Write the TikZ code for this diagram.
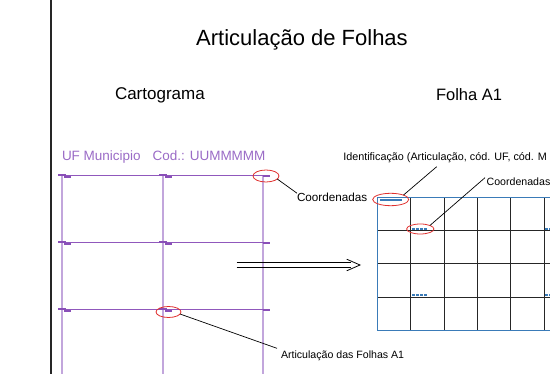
\documentclass[tikz,border=0pt]{standalone}
\usepackage{fontspec}
\setmainfont{Liberation Sans}
\usetikzlibrary{shapes.geometric}
\definecolor{purp}{HTML}{9A6BC6}
\definecolor{purpline}{HTML}{9058BC}
\definecolor{purplight}{HTML}{C2A6DC}
\definecolor{purpmark}{HTML}{8A4FB8}
\definecolor{redc}{HTML}{E0302E}
\definecolor{bluec}{HTML}{3A7BB8}
\tikzset{
  lbl/.style={anchor=base west, inner sep=0pt, outer sep=0pt},
  ring/.style={draw=redc, line width=0.8pt, ellipse, inner sep=0pt, outer sep=0pt},
  leader/.style={draw=black, line width=0.7pt},
  pmark/.style={draw=purpmark, line width=1.8pt},
  gline/.style={draw=black!85, line width=0.9pt},
  bmark/.style={draw=bluec, line width=2pt},
}
\begin{document}
\begin{tikzpicture}[x=1pt,y=-1pt]
\useasboundingbox (0,0) rectangle (550,374);
\clip (0,0) rectangle (550,374);
% left bar
\draw[line width=2pt, black!85] (51,-2) -- (51,376);
% titles
\node[anchor=base, inner sep=0pt, font=\fontsize{22}{26}\selectfont] (title) at (302,46) {Articulação de Folhas};
\node[lbl, font=\fontsize{17}{20}\selectfont] (carto) at (115,100) {Cartograma};
\node[lbl, font=\fontsize{16.5}{20}\selectfont] (folha) at (436,101) {Folha A1};
% purple header
\node[lbl, text=purp, font=\fontsize{13.5}{16}\selectfont] (uf) at (62,160.7) {UF Municipio\hspace{8pt} Cod.: UUMMMMM};
% left grid
\foreach \x in {62,163,263} \draw[purplight, line width=1.4pt] (\x,175) -- (\x,380);
\foreach \y in {176,243,310} \draw[purpline, line width=1pt] (58,\y) -- (270,\y);
\foreach \y in {176,243,310} {
  \foreach \x in {62,163} {
    \draw[pmark] (\x-4,\y-1.3) -- (\x+4,\y-1.3);
    \draw[pmark] (\x+2,\y+1.3) -- (\x+9,\y+1.3);
  }
  \draw[pmark] (263,\y) -- (270,\y);
}
% right grid
\foreach \x in {410.7,444,477.3,510.7,544} \draw[gline] (\x,197.3) -- (\x,330.3);
\foreach \y in {230.3,263.7,297} \draw[gline] (377.3,\y) -- (560,\y);
\draw[bluec, line width=1.3pt] (560,197.3) -- (377.3,197.3) -- (377.3,330.3) -- (560,330.3);
\draw[bmark] (379.5,200) -- (401.7,200);
\foreach \y in {229,295.5} {
  \draw[bmark, dash pattern=on 3pt off 1pt] (412,\y) -- (427,\y);
  \draw[bmark, dash pattern=on 3pt off 1pt] (545,\y) -- (556,\y);
}
% double arrow
\coordinate (ar1) at (236.7,262.3);
\coordinate (ar2) at (236.7,267.6);
\coordinate (ar3) at (351,262.3);
\coordinate (ar4) at (351,267.6);
\coordinate (hd1) at (346.7,259.2);
\coordinate (tip) at (360,265);
\coordinate (hd2) at (346.7,270.8);
\draw[line width=0.8pt] (ar1) -- (ar3);
\draw[line width=0.8pt] (ar2) -- (ar4);
\draw[line width=0.8pt] (hd1) -- (tip) -- (hd2);
% rings
\node[ring, minimum width=26pt, minimum height=12pt] (e1) at (266,176) {};
\node[ring, minimum width=25pt, minimum height=11pt] (e2) at (168.5,312) {};
\node[ring, minimum width=36pt, minimum height=12.4pt] (e3) at (390.7,199.5) {};
\node[ring, minimum width=27.3pt, minimum height=10pt] (e4) at (420.3,229) {};
% labels
\node[lbl, font=\fontsize{11.7}{14}\selectfont] (coordL) at (297,201.7) {Coordenadas};
\node[lbl, font=\fontsize{10.6}{13}\selectfont] (artic) at (281,359) {Articulação das Folhas A1};
\node[lbl, font=\fontsize{10.8}{13}\selectfont] (ident) at (343.3,161) {Identificação (Articulação, cód. UF, cód. M};
\node[lbl, font=\fontsize{10.6}{13}\selectfont] (coordR) at (486.7,186) {Coordenadas};
% leaders
\coordinate (idend) at (436.7,166.7);
\coordinate (crend) at (485,177.7);
\draw[leader] (e1.-15) -- (coordL.north west);
\draw[leader] (e2.-10) -- ([shift={(-4pt,3pt)}]artic.north west);
\draw[leader] (e3.north east) -- (idend);
\draw[leader] (e4.north east) -- (crend);
\end{tikzpicture}
\end{document}
